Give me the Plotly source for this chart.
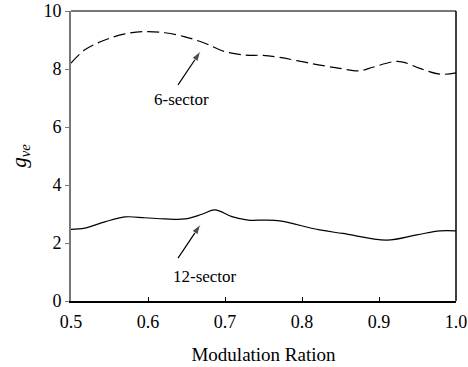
import plotly.graph_objects as go

# 6-sector (dashed)
x6 = [0.5, 0.518, 0.544, 0.57, 0.596, 0.622, 0.648, 0.674, 0.70, 0.726, 0.748, 0.771, 0.81, 0.849, 0.875, 0.892, 0.918, 0.931, 0.953, 0.979, 1.0]
y6 = [8.2, 8.66, 9.0, 9.21, 9.29, 9.25, 9.11, 8.89, 8.6, 8.48, 8.47, 8.4, 8.2, 8.02, 7.94, 8.06, 8.25, 8.24, 8.02, 7.82, 7.87]

# 12-sector (solid)
x12 = [0.5, 0.518, 0.544, 0.57, 0.596, 0.622, 0.648, 0.67, 0.687, 0.709, 0.73, 0.752, 0.771, 0.823, 0.853, 0.91, 0.949, 0.979, 1.0]
y12 = [2.47, 2.51, 2.73, 2.9, 2.87, 2.83, 2.83, 2.99, 3.14, 2.91, 2.79, 2.79, 2.76, 2.45, 2.33, 2.1, 2.28, 2.42, 2.42]

xticks = [0.5, 0.6, 0.7, 0.8, 0.9, 1.0]
xticklabels = ["0.5", "0.6", "0.7", "0.8", "0.9", "1.0"]
yticks = [0, 2, 4, 6, 8, 10]

# annotation labels and arrow endpoints (tail -> head)
labels = ["6-sector", "12-sector"]
label_x = [0.6430, 0.6734]
label_y = [6.95, 0.85]
arrow_x = [[0.639, 0.6685], [0.639, 0.6685]]
arrow_y = [[7.45, 8.62], [1.48, 2.65]]

F = "'Liberation Serif', 'Times New Roman', Times, serif"

fig = go.Figure()
fig.add_trace(go.Scatter(x=x6, y=y6, mode="lines", line=dict(color="black", width=1.2, dash="12px,5px", shape="spline", smoothing=1.0), showlegend=False))
fig.add_trace(go.Scatter(x=x12, y=y12, mode="lines", line=dict(color="black", width=1.2, shape="spline", smoothing=1.0), showlegend=False))
for ax_, ay_ in zip(arrow_x, arrow_y):
    fig.add_trace(go.Scatter(x=ax_, y=ay_, mode="lines+markers", line=dict(color="black", width=1.2),
                             marker=dict(symbol="arrow", size=[0, 11], angleref="previous", color="black"),
                             showlegend=False, hoverinfo="skip"))

fig.update_layout(
    width=468, height=367,
    margin=dict(l=71, r=12, t=11, b=66),
    paper_bgcolor="white", plot_bgcolor="white",
    font=dict(family=F, color="black", size=17),
    xaxis=dict(range=[0.5, 1.0], tickvals=xticks, ticktext=xticklabels, ticks="inside", ticklen=4,
               tickcolor="black", showline=True, linecolor="black", linewidth=1.5, showgrid=False,
               zeroline=False, tickfont=dict(family=F, size=18), ticklabelstandoff=4,
               ticklabeloverflow="allow", automargin=False,
               title=dict(text="Modulation Ration", font=dict(family=F, size=19), standoff=16)),
    yaxis=dict(range=[0, 10], tickvals=yticks, ticks="outside", ticklen=4, tickcolor="#777",
               showline=True, linecolor="#777", linewidth=2, showgrid=False, zeroline=False,
               tickfont=dict(family=F, size=18), automargin=False,
               title=dict(text="<i>g</i><sub><i>ve</i></sub>", font=dict(family=F, size=21), standoff=11)),
    shapes=[
        dict(type="line", xref="paper", yref="paper", x0=0, x1=1, y0=1, y1=1, line=dict(color="#777", width=2)),
        dict(type="line", xref="paper", yref="paper", x0=1, x1=1, y0=0, y1=1, line=dict(color="black", width=1.5)),
    ],
    annotations=[
        dict(x=lx, y=ly, text=t, showarrow=False, xref="x", yref="y", font=dict(family=F, size=17))
        for t, lx, ly in zip(labels, label_x, label_y)
    ],
)

fig.write_html("out.html")
